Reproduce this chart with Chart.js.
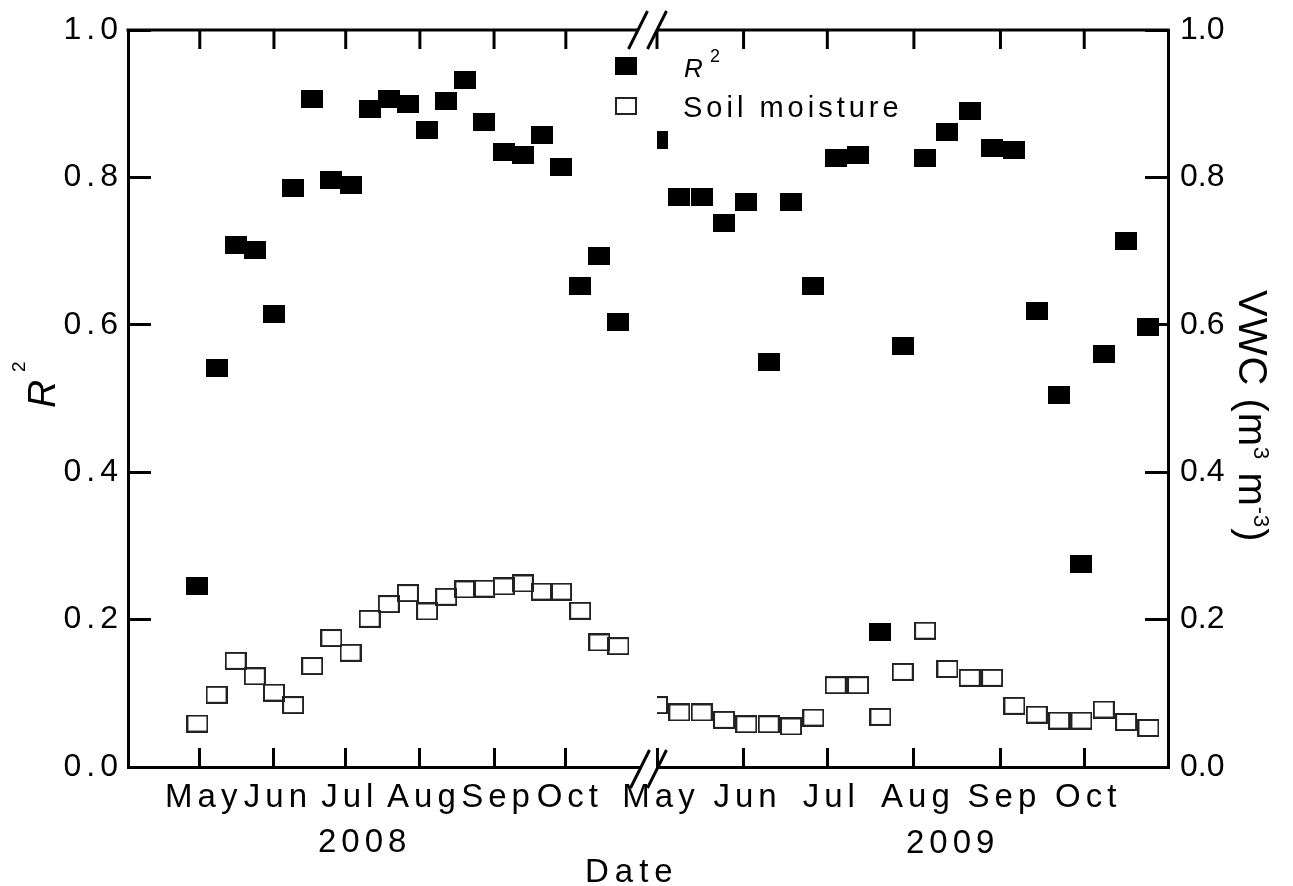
<!DOCTYPE html>
<html>
<head>
<meta charset="utf-8">
<script src="https://cdn.jsdelivr.net/npm/chart.js@4.4.1/dist/chart.umd.min.js"></script>
<style>
  html, body { margin: 0; padding: 0; background: #fff; }
</style>
</head>
<body>
<canvas id="chart" width="1293" height="886"></canvas>
<script>
// month ticks, day of year (2008 is a leap year)
const monthLabels = ['May', 'Jun', 'Jul', 'Aug', 'Sep', 'Oct'];
const monthStart2008 = [122, 153, 183, 214, 245, 275];
const monthStart2009 = [121, 152, 182, 213, 244, 274];
const yTicks = [0, 0.2, 0.4, 0.6, 0.8, 1.0];

// 8-day composites, day of year
const doy2008 = [121, 129, 137, 145, 153, 161, 169, 177, 185, 193, 201, 209, 217, 225, 233, 241, 249, 257, 265, 273, 281, 289, 297];
const doy2009 = [121, 129, 137, 145, 153, 161, 169, 177, 185, 193, 201, 209, 217, 225, 233, 241, 249, 257, 265, 273, 281, 289, 297];

const r2_2008 = [0.246, 0.542, 0.708, 0.701, 0.615, 0.786, 0.906, 0.797, 0.790, 0.893, 0.907, 0.900, 0.864, 0.903, 0.932, 0.875, 0.834, 0.830, 0.858, 0.814, 0.652, 0.693, 0.604];
const r2_2009 = [0.851, 0.773, 0.774, 0.738, 0.766, 0.550, 0.767, 0.653, 0.827, 0.830, 0.183, 0.571, 0.827, 0.861, 0.890, 0.840, 0.837, 0.619, 0.505, 0.275, 0.561, 0.714, 0.597];
const sm2008 = [0.059, 0.098, 0.144, 0.123, 0.101, 0.084, 0.137, 0.175, 0.155, 0.201, 0.221, 0.236, 0.211, 0.231, 0.241, 0.242, 0.245, 0.249, 0.238, 0.238, 0.212, 0.169, 0.164];
const sm2009 = [0.084, 0.074, 0.074, 0.064, 0.058, 0.058, 0.055, 0.067, 0.111, 0.111, 0.068, 0.129, 0.185, 0.133, 0.121, 0.121, 0.083, 0.071, 0.063, 0.063, 0.078, 0.061, 0.053];

const FONT = '"Liberation Sans", Arial, sans-serif';
Chart.defaults.font.family = FONT;
Chart.defaults.color = '#000';

const pts = (xs, ys) => xs.map((x, i) => ({ x: x, y: ys[i] }));

function marker(filled) {
  const c = document.createElement('canvas');
  c.width = 22;
  c.height = 18;
  const g = c.getContext('2d');
  if (filled) {
    g.fillStyle = '#000';
    g.fillRect(0, 0, 22, 18);
  } else {
    g.strokeStyle = '#222';
    g.lineWidth = 2;
    g.strokeRect(1, 1, 20, 16);
  }
  return c;
}
const filledMark = marker(true);
const hollowMark = marker(false);

function xAxis(starts, min, max, weight) {
  return {
    type: 'linear', axis: 'x', position: 'bottom',
    stack: 'date', stackWeight: weight,
    min: min, max: max, offset: false,
    afterBuildTicks: s => { s.ticks = starts.map(v => ({ value: v })); },
    afterFit: s => { s.height = 119; },
    grid: { drawOnChartArea: false, tickLength: -19, tickWidth: 3, tickColor: '#000' },
    border: { display: true, width: 3, color: '#000' },
    ticks: {
      autoSkip: false, maxRotation: 0, minRotation: 0, padding: 30, labelOffset: 4, z: 1,
      font: { size: 33 }, color: '#000',
      callback: (v, i) => monthLabels[i]
    }
  };
}

function yAxis(pos, width, pad, z) {
  return {
    type: 'linear', axis: 'y', position: pos, min: 0, max: 1,
    afterBuildTicks: s => { s.ticks = yTicks.map(v => ({ value: v })); },
    afterFit: s => { s.width = width; s.paddingTop = 0; s.paddingBottom = 0; },
    grid: { drawOnChartArea: false, tickLength: -23, tickWidth: 3, tickColor: '#000' },
    border: { display: true, width: 3, color: '#000' },
    ticks: { padding: pad, z: z, font: { size: 32 }, color: '#000', callback: v => v.toFixed(1) }
  };
}

// clip each series to its own segment of the broken axis
const segmentClip = {
  id: 'segmentClip',
  beforeDatasetDraw(chart, args) {
    const xs = args.meta.xScale;
    const a = chart.chartArea;
    chart.ctx.save();
    chart.ctx.beginPath();
    chart.ctx.rect(xs.left, a.top - 30, xs.right - xs.left, a.bottom - a.top + 60);
    chart.ctx.clip();
  },
  afterDatasetDraw(chart) {
    chart.ctx.restore();
  }
};

function line(ctx, x1, y1, x2, y2) {
  ctx.beginPath();
  ctx.moveTo(x1, y1);
  ctx.lineTo(x2, y2);
  ctx.stroke();
}

const extras = {
  id: 'extras',
  beforeDraw(chart) { chart.ctx.letterSpacing = '0px'; },
  afterDatasetsDraw(chart) { chart.ctx.letterSpacing = '5px'; },
  afterDraw(chart) {
    const ctx = chart.ctx;
    const a = chart.chartArea;
    const x08 = chart.scales.x08, x09 = chart.scales.x09;
    ctx.save();
    ctx.strokeStyle = '#000';
    ctx.fillStyle = '#000';
    ctx.lineWidth = 3;

    // top frame with inward ticks
    line(ctx, a.left - 1.5, a.top, x08.right - 2, a.top);
    line(ctx, x09.left, a.top, a.right + 1.5, a.top);
    [x08, x09].forEach(s => {
      s.ticks.forEach(t => {
        const px = s.getPixelForValue(t.value);
        line(ctx, px, a.top, px, a.top + 19);
      });
    });

    // axis break marks
    [[x08.right - 2, a.top], [x09.left, a.top], [x08.right, a.bottom + 2], [x09.left, a.bottom + 2]]
      .forEach(p => line(ctx, p[0] - 9.5, p[1] + 19, p[0] + 9.5, p[1] - 19));

    // legend
    ctx.drawImage(filledMark, 615, 57);
    ctx.drawImage(hollowMark, 615, 97);
    ctx.textAlign = 'left';
    ctx.textBaseline = 'alphabetic';
    ctx.letterSpacing = '0px';
    ctx.font = 'italic 26px ' + FONT;
    ctx.fillText('R', 684, 77);
    ctx.font = '18px ' + FONT;
    ctx.fillText('2', 710, 62);
    ctx.letterSpacing = '4px';
    ctx.font = '29px ' + FONT;
    ctx.fillText('Soil moisture', 683, 117);

    // x titles
    ctx.letterSpacing = '5px';
    ctx.font = '33px ' + FONT;
    ctx.fillText('2008', 318, 852);
    ctx.fillText('2009', 906, 853);
    ctx.letterSpacing = '6px';
    ctx.fillText('Date', 585, 882);

    // left title
    ctx.letterSpacing = '0px';
    ctx.save();
    ctx.translate(55, 408);
    ctx.rotate(-Math.PI / 2);
    ctx.font = 'italic 39px ' + FONT;
    ctx.fillText('R', 0, 0);
    ctx.font = '19px ' + FONT;
    ctx.fillText('2', 36, -30);
    ctx.restore();

    // right title
    ctx.save();
    ctx.translate(1239, 290);
    ctx.rotate(Math.PI / 2);
    ctx.letterSpacing = '1px';
    const parts = [['VWC (m', 40, 0], ['3', 22, -15], [' m', 40, 0], ['-3', 22, -15], [')', 40, 0]];
    let u = 0;
    parts.forEach(p => {
      ctx.font = p[1] + 'px ' + FONT;
      ctx.fillText(p[0], u, p[2]);
      u += ctx.measureText(p[0]).width;
    });
    ctx.restore();

    ctx.restore();
    ctx.letterSpacing = '0px';
  }
};

new Chart(document.getElementById('chart'), {
  type: 'scatter',
  data: {
    datasets: [
      { label: 'R2 2008', data: pts(doy2008, r2_2008), xAxisID: 'x08', yAxisID: 'y',
        pointStyle: filledMark, pointRadius: 11, pointHoverRadius: 11 },
      { label: 'R2 2009', data: pts(doy2009, r2_2009), xAxisID: 'x09', yAxisID: 'y',
        pointStyle: filledMark, pointRadius: 11, pointHoverRadius: 11 },
      { label: 'Soil moisture 2008', data: pts(doy2008, sm2008), xAxisID: 'x08', yAxisID: 'y2',
        pointStyle: hollowMark, pointRadius: 11, pointHoverRadius: 11 },
      { label: 'Soil moisture 2009', data: pts(doy2009, sm2009), xAxisID: 'x09', yAxisID: 'y2',
        pointStyle: hollowMark, pointRadius: 11, pointHoverRadius: 11 }
    ]
  },
  options: {
    responsive: false,
    animation: false,
    events: [],
    layout: { padding: { top: 30, left: 0, right: 0, bottom: 0 } },
    plugins: { legend: { display: false }, tooltip: { enabled: false } },
    scales: {
      x08: xAxis(monthStart2008, 92, 306, 512),
      xgap: {
        type: 'linear', axis: 'x', position: 'bottom', stack: 'date', stackWeight: 17,
        min: 0, max: 1,
        afterFit: s => { s.height = 119; },
        grid: { display: false }, border: { display: false }, ticks: { display: false }
      },
      x09: xAxis(monthStart2009, 121, 304, 511),
      y: yAxis('left', 128, 28, 1),
      y2: yAxis('right', 125, 35, 0)
    }
  },
  plugins: [segmentClip, extras]
});
</script>
</body>
</html>
